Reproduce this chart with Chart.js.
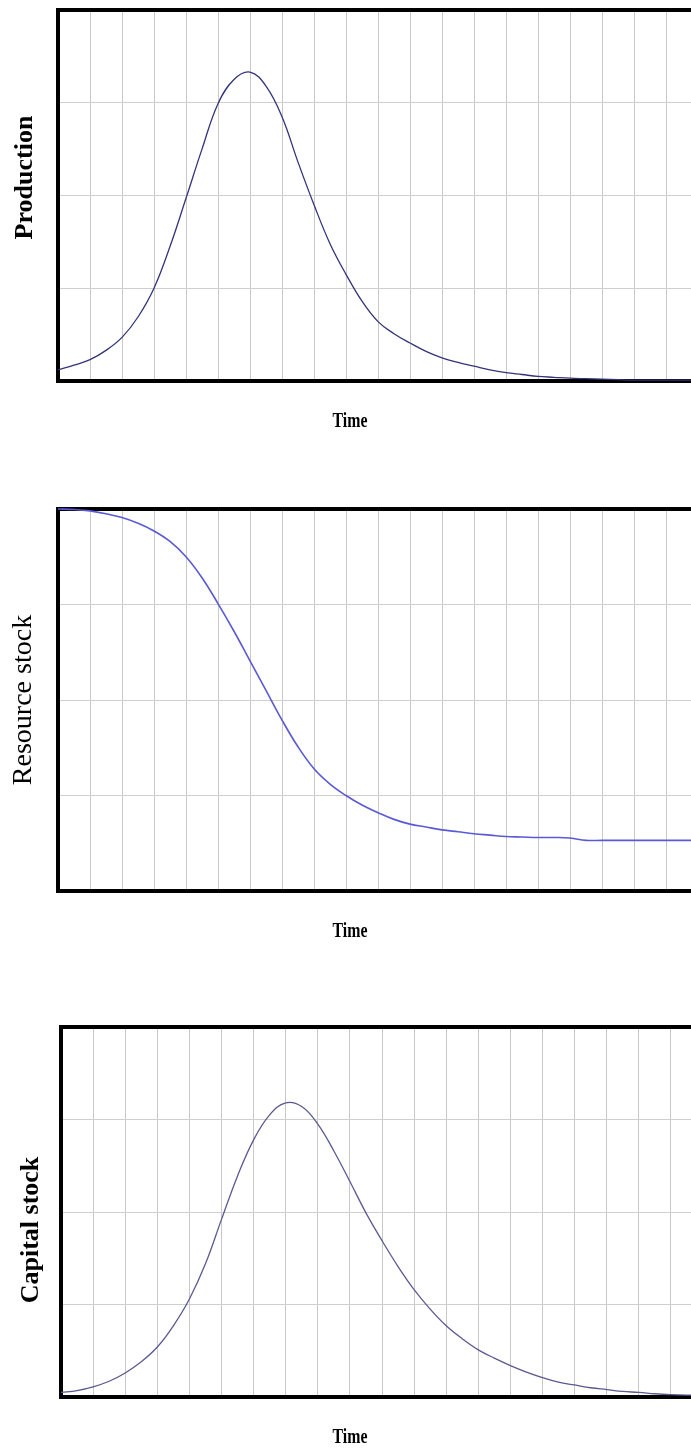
<!DOCTYPE html>
<html>
<head>
<meta charset="utf-8">
<script src="https://cdn.jsdelivr.net/npm/chart.js@4/dist/chart.umd.min.js"></script>
<style>
    body { margin: 0; background: #fff; overflow: hidden; }
    #wrap { position: relative; width: 691px; height: 1452px; overflow: hidden; }
    canvas { position: absolute; left: 0; }
</style>
</head>
<body>
<div id="wrap">
    <canvas id="myChart1" width="720" height="480" style="top:0px"></canvas>
    <canvas id="myChart2" width="720" height="480" style="top:480px"></canvas>
    <canvas id="myChart3" width="720" height="462" style="top:990px"></canvas>
</div>
<script>
// time axis, one unit per grid column
var timeSteps = [0, 0.5, 1, 1.5, 2, 2.5, 3, 3.5, 4, 4.5, 5, 5.5, 6, 6.5, 7, 7.5, 8, 8.5, 9, 9.5,
    10, 10.5, 11, 11.5, 12, 12.5, 13, 13.5, 14, 14.5, 15, 15.5, 16, 16.5, 17, 17.5, 18, 18.5, 19, 19.5, 20];

var production = [0.12, 0.17, 0.23, 0.33, 0.47, 0.69, 1.0, 1.45, 1.97, 2.5, 2.99, 3.25, 3.33, 3.18, 2.85, 2.36,
    1.9, 1.48, 1.15, 0.86, 0.64, 0.51, 0.41, 0.32, 0.25, 0.2, 0.16, 0.12, 0.09, 0.07, 0.05, 0.04,
    0.03, 0.025, 0.02, 0.015, 0.01, 0.01, 0.01, 0.01, 0.01];

var resourceStock = [4.0, 3.995, 3.98, 3.95, 3.91, 3.85, 3.77, 3.66, 3.50, 3.28, 3.01, 2.72, 2.41, 2.10, 1.79, 1.51,
    1.28, 1.12, 1.0, 0.90, 0.82, 0.75, 0.70, 0.67, 0.64, 0.62, 0.60, 0.585, 0.57, 0.565, 0.56, 0.56,
    0.555, 0.53, 0.53, 0.53, 0.53, 0.53, 0.53, 0.53, 0.53];

var capitalStock = [0.05, 0.07, 0.11, 0.17, 0.26, 0.38, 0.54, 0.77, 1.06, 1.44, 1.92, 2.39, 2.78, 3.05, 3.18, 3.14,
    2.95, 2.66, 2.33, 1.99, 1.69, 1.41, 1.16, 0.95, 0.77, 0.63, 0.51, 0.42, 0.34, 0.27, 0.21, 0.16,
    0.13, 0.10, 0.08, 0.06, 0.05, 0.035, 0.025, 0.02, 0.02];

var yTicks = [0, 1, 2, 3, 4];

function points(values) {
    return timeSteps.map(function(t, i) { return { x: t, y: values[i] }; });
}

// thick frame under the curve, labels around it
var frameAndTitles = {
    id: 'frameAndTitles',
    beforeDatasetsDraw: function(chart) {
        var ctx = chart.ctx, a = chart.chartArea;
        ctx.save();
        ctx.strokeStyle = '#000';
        ctx.lineWidth = 4;
        ctx.strokeRect(a.left, a.top, a.right - a.left, a.bottom - a.top);
        ctx.restore();
    },
    afterDraw: function(chart, args, opts) {
        var ctx = chart.ctx, a = chart.chartArea;
        ctx.save();
        ctx.fillStyle = '#000';
        ctx.textAlign = 'center';
        ctx.textBaseline = 'middle';
        ctx.translate(opts.yTitleX, (a.top + a.bottom) / 2 + opts.yTitleShift);
        ctx.rotate(-Math.PI / 2);
        ctx.font = opts.yFont;
        ctx.fillText(opts.yTitle, 0, 0);
        ctx.restore();

        ctx.save();
        ctx.fillStyle = '#000';
        ctx.textAlign = 'center';
        ctx.textBaseline = 'middle';
        ctx.translate(350, a.bottom + 40);
        ctx.scale(0.72, 1);
        ctx.font = 'bold 22px "Liberation Serif", serif';
        ctx.fillText('Time', 0, 0);
        ctx.restore();
    }
};

function makeOptions(pad, title) {
    return {
        responsive: false,
        animation: false,
        devicePixelRatio: 1,
        layout: { padding: pad },
        plugins: {
            legend: { display: false },
            tooltip: { enabled: false },
            frameAndTitles: title
        },
        scales: {
            x: {
                type: 'linear', min: 0, max: 20,
                ticks: { display: false, stepSize: 1 },
                grid: { color: '#c9c9c9', lineWidth: 1, drawTicks: false },
                border: { display: false },
                afterFit: function(s) { s.height = 0; }
            },
            y: {
                min: yTicks[0], max: yTicks[yTicks.length - 1],
                ticks: { display: false, stepSize: 1 },
                grid: { color: '#cfcfcf', lineWidth: 1, drawTicks: false },
                border: { display: false },
                afterFit: function(s) { s.width = 0; }
            }
        }
    };
}

function lineSet(values, colour, width) {
    return {
        data: points(values),
        borderColor: colour,
        borderWidth: width,
        pointRadius: 0,
        fill: false,
        clip: 6,
        tension: 0.4
    };
}

//Mychart1
new Chart(document.getElementById("myChart1"), {
    type: 'line',
    data: { datasets: [lineSet(production, '#33337c', 1.3)] },
    options: makeOptions({ left: 58, top: 10, right: 22, bottom: 99 },
        { yTitle: 'Production', yFont: 'bold 26px "Liberation Serif", serif', yTitleX: 25, yTitleShift: -18 }),
    plugins: [frameAndTitles]
});

//Mychart2
new Chart(document.getElementById("myChart2"), {
    type: 'line',
    data: { datasets: [lineSet(resourceStock, '#5a5ad6', 1.6)] },
    options: makeOptions({ left: 58, top: 29, right: 22, bottom: 69 },
        { yTitle: 'Resource stock', yFont: '28px "Liberation Serif", serif', yTitleX: 24, yTitleShift: 0 }),
    plugins: [frameAndTitles]
});

//Mychart3
new Chart(document.getElementById("myChart3"), {
    type: 'line',
    data: { datasets: [lineSet(capitalStock, '#5a5a90', 1.3)] },
    options: makeOptions({ left: 61, top: 37, right: 17, bottom: 55 },
        { yTitle: 'Capital stock', yFont: 'bold 26px "Liberation Serif", serif', yTitleX: 31, yTitleShift: 18 }),
    plugins: [frameAndTitles]
});
</script>
</body>
</html>
